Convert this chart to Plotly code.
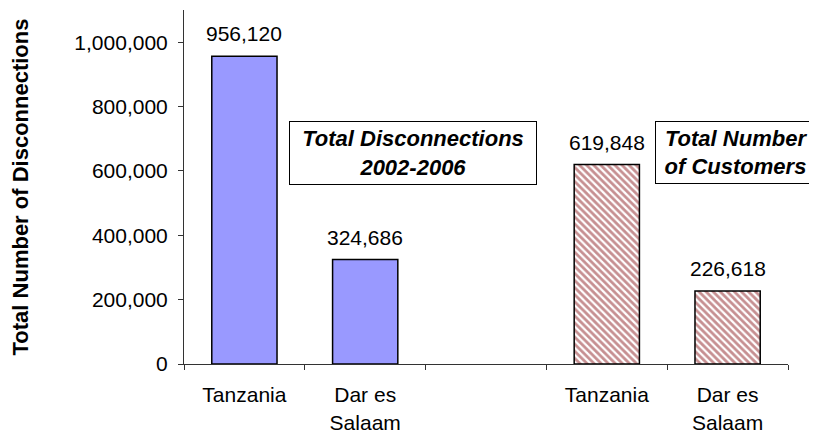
import plotly.graph_objects as go

# Data
disc_labels = ["Tanzania", "Dar es<br>Salaam"]
disc_values = [956120, 324686]
cust_labels = ["Tanzania", "Dar es<br>Salaam"]
cust_values = [619848, 226618]
disc_pos = [0, 1]
cust_pos = [3, 4]
y_ticks = [0, 200000, 400000, 600000, 800000, 1000000]

FONT = "Liberation Sans, Arial, sans-serif"
FS = 21

fig = go.Figure()
fig.add_trace(go.Bar(
    x=disc_pos, y=disc_values, width=0.54,
    marker=dict(color="#9999FF", line=dict(color="black", width=1.5)),
    showlegend=False, hoverinfo="skip",
))
fig.add_trace(go.Bar(
    x=cust_pos, y=cust_values, width=0.54,
    marker=dict(color="white", line=dict(color="black", width=1.5),
                pattern=dict(shape="\\", fgcolor="#8E1F24", bgcolor="white",
                             size=5, solidity=0.55)),
    showlegend=False, hoverinfo="skip",
))

annotations = []
for xs, vs in ((disc_pos, disc_values), (cust_pos, cust_values)):
    for xv, v in zip(xs, vs):
        annotations.append(dict(
            x=xv, y=v, xref="x", yref="y", text=f"{v:,}",
            showarrow=False, yanchor="bottom", yshift=9,
            font=dict(family=FONT, size=FS, color="black"),
        ))

annotations.append(dict(
    x=(289 - 184) / 604, y=(364 - 121) / 354, xref="paper", yref="paper",
    xanchor="left", yanchor="top", showarrow=False,
    text="<b><i>Total Disconnections<br>2002-2006</i></b>",
    font=dict(family=FONT, size=22, color="black"),
    bordercolor="black", borderwidth=1, borderpad=1,
    width=244, height=60, bgcolor="white", align="center",
))
annotations.append(dict(
    x=(655 - 184) / 604, y=(364 - 121) / 354, xref="paper", yref="paper",
    xanchor="left", yanchor="top", showarrow=False,
    text="<b><i>Total Number<br>of Customers</i></b>",
    font=dict(family=FONT, size=22, color="black"),
    bordercolor="black", borderwidth=1, borderpad=1,
    width=158, height=59, bgcolor="white", align="center",
))

# The page body adds an 8px margin, so the figure is sized to end at the window edge.
fig.update_layout(
    width=809, height=426,
    margin=dict(l=176, r=29, t=2, b=70),
    paper_bgcolor="white", plot_bgcolor="white",
    font=dict(family=FONT, size=FS, color="black"),
    annotations=annotations,
    xaxis=dict(
        range=[-0.5, 4.5],
        automargin=False,
        tickmode="array",
        tickvals=disc_pos + cust_pos,
        ticktext=disc_labels + cust_labels,
        ticks="", showgrid=False, zeroline=False,
        showline=True, linecolor="#333333", linewidth=1,
        tickfont=dict(size=FS),
        ticklabelstandoff=12,
        minor=dict(tickmode="array", tickvals=[-0.5, 0.5, 1.5, 2.5, 3.5, 4.5],
                   ticks="outside", ticklen=5, tickcolor="#333333", showgrid=False),
    ),
    yaxis=dict(
        range=[0, 1100000],
        automargin=False,
        tickmode="array", tickvals=y_ticks,
        tickformat=",d",
        ticks="outside", ticklen=5, tickcolor="#333333",
        showgrid=False, zeroline=False,
        showline=True, linecolor="#333333", linewidth=1,
        tickfont=dict(size=FS),
        ticklabelstandoff=6,
        title=dict(text="<b>Total Number of Disconnections</b>",
                   font=dict(size=22), standoff=42),
    ),
)

fig.write_html("out.html")
